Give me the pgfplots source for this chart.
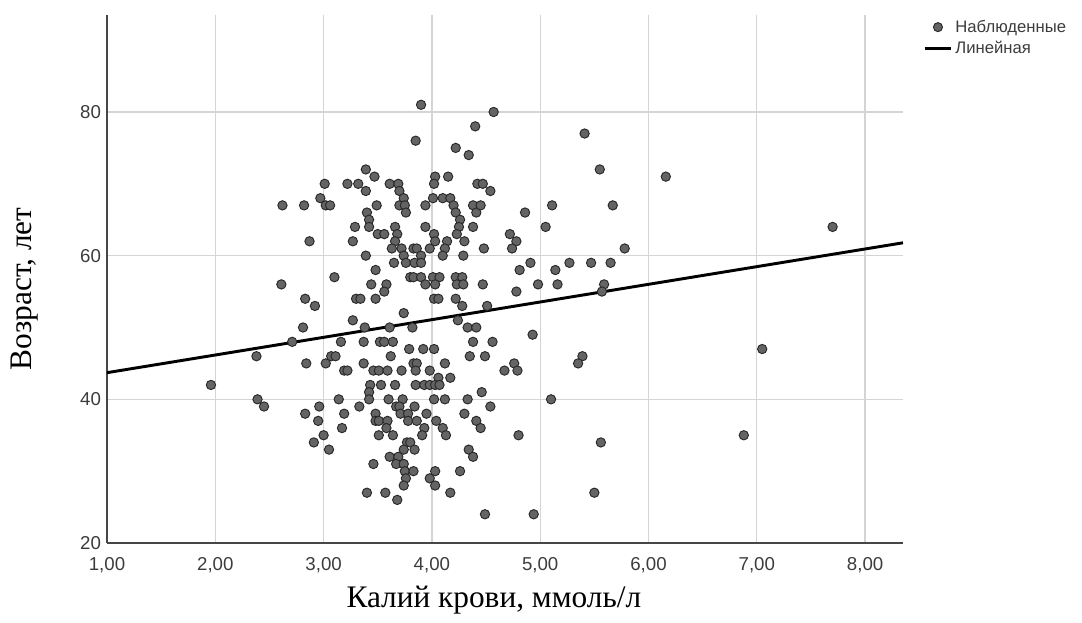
\documentclass[border=0pt]{standalone}
\usepackage{fontspec}
\setmainfont{Liberation Sans}
\newfontfamily\titlefont{Liberation Serif}
\usepackage{pgfplots}
\usepackage{pgfplotstable}
\pgfplotsset{compat=1.18}

\definecolor{gridgray}{RGB}{212,212,212}
\definecolor{axisgray}{RGB}{70,70,70}
\definecolor{ticktext}{RGB}{60,60,60}
\definecolor{dotfill}{RGB}{100,100,100}
\definecolor{dotedge}{RGB}{40,40,40}

% potassium (mmol/l) vs. age (years)
\pgfplotstableread{
k age
3.90 81
4.40 78
3.85 76
4.22 75
4.34 74
3.39 72
3.47 71
4.03 71
4.15 71
3.01 70
3.22 70
3.32 70
3.61 70
3.69 70
4.02 70
4.42 70
3.39 69
3.70 69
2.97 68
3.74 68
4.01 68
4.10 68
4.17 68
2.82 67
3.02 67
3.06 67
3.49 67
3.70 67
3.75 67
3.94 67
4.20 67
4.38 67
3.40 66
3.76 66
4.22 66
4.41 66
3.42 65
4.26 65
3.29 64
3.42 64
3.66 64
3.94 64
4.25 64
4.38 64
3.50 63
3.56 63
3.68 63
4.02 63
4.23 63
2.87 62
3.27 62
3.66 62
4.03 62
4.14 62
4.30 62
3.63 61
3.72 61
3.83 61
3.86 61
3.98 61
4.12 61
3.39 60
3.74 60
3.90 60
4.10 60
4.29 60
3.65 59
3.76 59
3.84 59
3.90 59
3.48 58
3.10 57
3.80 57
3.83 57
3.90 57
4.01 57
4.07 57
4.22 57
4.28 57
3.44 56
3.58 56
3.94 56
4.03 56
4.23 56
4.29 56
3.56 55
2.83 54
3.30 54
3.34 54
3.48 54
4.02 54
4.06 54
4.22 54
2.92 53
4.28 53
3.74 52
3.27 51
4.24 51
2.81 50
3.38 50
3.61 50
3.82 50
4.33 50
4.41 50
2.71 48
3.16 48
3.37 48
3.52 48
3.56 48
3.64 48
4.38 48
3.79 47
3.92 47
4.02 47
3.07 46
3.11 46
3.62 46
4.35 46
2.84 45
3.02 45
3.37 45
3.83 45
3.86 45
4.12 45
3.19 44
3.22 44
3.46 44
3.51 44
3.59 44
3.72 44
3.85 44
3.98 44
4.06 43
4.17 43
3.43 42
3.53 42
3.66 42
3.85 42
3.93 42
3.98 42
4.03 42
4.07 42
3.42 41
3.14 40
3.42 40
3.60 40
3.73 40
4.02 40
4.12 40
4.33 40
2.96 39
3.33 39
3.67 39
3.70 39
3.84 39
2.83 38
3.19 38
3.48 38
3.71 38
3.78 38
3.95 38
4.30 38
2.95 37
3.48 37
3.51 37
3.59 37
3.78 37
3.86 37
4.04 37
4.41 37
3.17 36
3.58 36
3.93 36
4.10 36
3.00 35
3.51 35
3.64 35
3.91 35
4.13 35
2.91 34
3.77 34
3.80 34
3.05 33
3.74 33
3.84 33
4.34 33
3.61 32
3.69 32
4.38 32
3.46 31
3.67 31
3.74 31
3.75 30
3.83 30
4.03 30
4.26 30
3.76 29
3.98 29
3.74 28
4.03 28
3.40 27
3.57 27
4.17 27
3.68 26
2.62 67
2.61 56
1.96 42
2.38 46
2.39 40
2.45 39
4.57 80
5.41 77
4.47 70
4.54 69
4.45 67
4.86 66
5.11 67
5.05 64
4.72 63
4.78 62
4.74 61
4.48 61
4.91 59
5.27 59
4.81 58
5.14 58
4.47 56
4.98 56
5.16 56
4.78 55
4.51 53
4.93 49
4.56 48
4.49 46
5.39 46
5.35 45
4.76 45
4.67 44
4.79 44
4.46 41
4.54 39
5.10 40
4.80 35
4.49 24
4.94 24
4.45 36
5.55 72
6.16 71
5.67 67
7.70 64
5.78 61
5.47 59
5.65 59
5.59 56
5.57 55
7.05 47
6.88 35
5.56 34
5.50 27
}\obs

\begin{document}
\begin{tikzpicture}
\path[use as bounding box] (0,0) rectangle (811.5pt,466.5pt);
\begin{axis}[
  at={(80.25pt,59.25pt)}, anchor=south west,
  scale only axis, width=597pt, height=396pt,
  xmin=1, xmax=8.35, ymin=20, ymax=93.5,
  xtick={1,2,...,8}, ytick={20,40,60,80},
  axis lines*=left,
  axis line style={axisgray, line width=0.9pt},
  grid=major,
  major grid style={gridgray, line width=1pt},
  major tick length=0pt,
  /pgf/number format/assume math mode=true,
  tick label style={font=\fontsize{14}{16}\selectfont, text=ticktext},
  xticklabel={\pgfmathprintnumber[fixed,fixed zerofill,precision=2,use comma]{\tick}},
  yticklabel={\pgfmathprintnumber[fixed,precision=0]{\tick}},
  xticklabel style={yshift=-7pt},
  yticklabel style={xshift=-1pt},
  xlabel={\titlefont Калий крови, ммоль/л},
  ylabel={\titlefont Возраст, лет},
  label style={font=\fontsize{23.5}{26}\selectfont, text=black},
  xlabel style={at={(axis description cs:0.486,-0.108)}, anchor=center},
  ylabel style={at={(axis description cs:-0.104,0.481)}, anchor=center},
  legend style={at={(axis description cs:1.025,0.996)}, anchor=north west,
    draw=none, fill=none, inner sep=0pt, row sep=1pt,
    font=\fontsize{12.5}{14}\selectfont, text=ticktext,
    /tikz/every even column/.append style={column sep=6pt}},
  legend cell align=left,
  clip=false,
]
\addplot[only marks, mark=*, mark size=3.5pt,
  mark options={fill=dotfill, draw=dotedge, line width=0.7pt},
  legend image code/.code={\draw[mark options={fill=dotfill, draw=dotedge, line width=0.7pt}] plot[mark=*, mark size=3.4pt] coordinates {(10pt,0)};}]
  table[x=k, y=age]{\obs};
\addlegendentry{Наблюденные}
\addplot[black, line width=2.2pt,
  legend image code/.code={\draw[black, line width=2.2pt] (0pt,0pt) -- (20pt,0pt);}]
  coordinates {(1,43.71) (8.35,61.79)};
\addlegendentry{Линейная}
\end{axis}
\end{tikzpicture}
\end{document}
